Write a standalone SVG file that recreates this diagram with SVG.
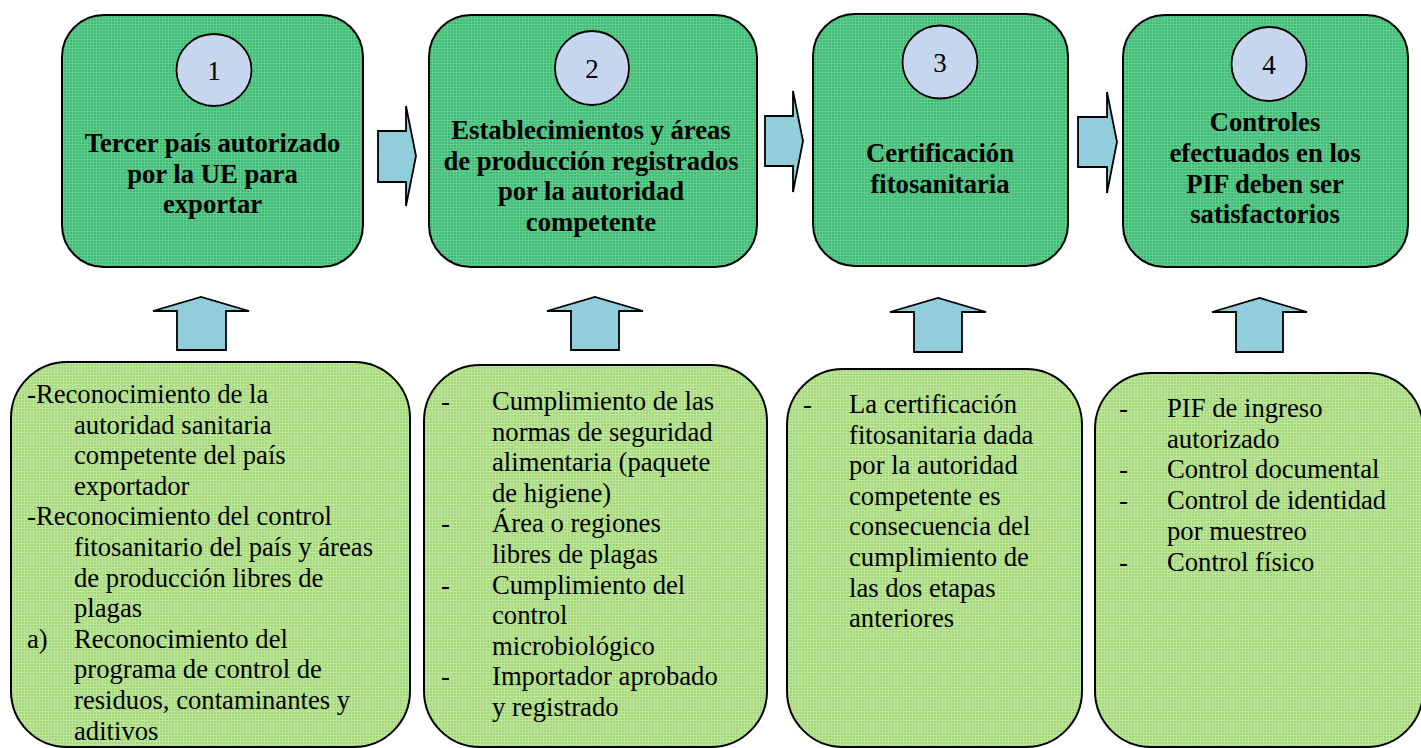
<svg xmlns="http://www.w3.org/2000/svg" width="1421" height="748" viewBox="0 0 1421 748">
<defs>
<pattern id="pTop" width="3" height="3" patternUnits="userSpaceOnUse">
<rect width="3" height="3" fill="#3dba74"/>
<rect width="1" height="3" fill="#62cc8f"/>
<rect width="3" height="1" fill="#62cc8f"/>
</pattern>
<pattern id="pBot" width="3" height="3" patternUnits="userSpaceOnUse">
<rect width="3" height="3" fill="#a3d878"/>
<rect width="1" height="3" fill="#bfe59c"/>
<rect width="3" height="1" fill="#bfe59c"/>
</pattern>
</defs>
<style>
.top{fill:url(#pTop);stroke:#000;stroke-width:2}
.bot{fill:url(#pBot);stroke:#000;stroke-width:2}
.num{fill:#c6d6ef;stroke:#000;stroke-width:1.8}
.arr{fill:#92cddc;stroke:#000;stroke-width:1.8;stroke-linejoin:miter}
.t{font-family:"Liberation Serif","Times New Roman",serif;font-size:26.67px;fill:#000}
.b{font-weight:bold;text-anchor:middle}
.n{text-anchor:middle;font-size:27px}
</style>
<rect width="1421" height="748" fill="#fff"/>

<g id="node1">
<rect class="top" x="62" y="15" width="301" height="252" rx="42" ry="42"/>
<ellipse class="num" cx="214" cy="70" rx="37.5" ry="36"/>
<text class="t n" x="214" y="80">1</text>
<text class="t b" x="212.5" y="152">Tercer país autorizado</text>
<text class="t b" x="212.5" y="183">por la UE para</text>
<text class="t b" x="212.5" y="213">exportar</text>
</g>

<g id="node2">
<rect class="top" x="429" y="15" width="328" height="252" rx="42" ry="42"/>
<ellipse class="num" cx="592" cy="68" rx="37" ry="37"/>
<text class="t n" x="592" y="78">2</text>
<text class="t b" x="591" y="139">Establecimientos y áreas</text>
<text class="t b" x="591" y="170">de producción registrados</text>
<text class="t b" x="591" y="200">por la autoridad</text>
<text class="t b" x="591" y="231">competente</text>
</g>

<g id="node3">
<rect class="top" x="813" y="14" width="255" height="252" rx="42" ry="42"/>
<ellipse class="num" cx="940" cy="62" rx="37.5" ry="36.5"/>
<text class="t n" x="940" y="72">3</text>
<text class="t b" x="940" y="162">Certificación</text>
<text class="t b" x="940" y="193">fitosanitaria</text>
</g>

<g id="node4">
<rect class="top" x="1123" y="15" width="285" height="252" rx="42" ry="42"/>
<ellipse class="num" cx="1269" cy="64" rx="37.5" ry="37"/>
<text class="t n" x="1269" y="74">4</text>
<text class="t b" x="1265" y="131">Controles</text>
<text class="t b" x="1265" y="162">efectuados en los</text>
<text class="t b" x="1265" y="193">PIF deben ser</text>
<text class="t b" x="1265" y="223">satisfactorios</text>
</g>

<g id="detail1">
<rect class="bot" x="11" y="362" width="399" height="385" rx="56" ry="56"/>
<text class="t" x="27" y="403">-Reconocimiento de la</text>
<text class="t" x="74" y="433.6">autoridad sanitaria</text>
<text class="t" x="74" y="464.2">competente del país</text>
<text class="t" x="74" y="494.8">exportador</text>
<text class="t" x="27" y="525.4">-Reconocimiento del control</text>
<text class="t" x="74" y="556">fitosanitario del país y áreas</text>
<text class="t" x="74" y="586.6">de producción libres de</text>
<text class="t" x="74" y="617.2">plagas</text>
<text class="t" x="27" y="647.8">a)</text>
<text class="t" x="74" y="647.8">Reconocimiento del</text>
<text class="t" x="74" y="678.4">programa de control de</text>
<text class="t" x="74" y="709">residuos, contaminantes y</text>
<text class="t" x="74" y="739.6">aditivos</text>
</g>

<g id="detail2">
<rect class="bot" x="424" y="365" width="343" height="382" rx="56" ry="56"/>
<text class="t" x="441" y="410">-</text>
<text class="t" x="492" y="410">Cumplimiento de las</text>
<text class="t" x="492" y="440.6">normas de seguridad</text>
<text class="t" x="492" y="471.2">alimentaria (paquete</text>
<text class="t" x="492" y="501.8">de higiene)</text>
<text class="t" x="441" y="532.4">-</text>
<text class="t" x="492" y="532.4">Área o regiones</text>
<text class="t" x="492" y="563">libres de plagas</text>
<text class="t" x="441" y="593.6">-</text>
<text class="t" x="492" y="593.6">Cumplimiento del</text>
<text class="t" x="492" y="624.2">control</text>
<text class="t" x="492" y="654.8">microbiológico</text>
<text class="t" x="441" y="685.4">-</text>
<text class="t" x="492" y="685.4">Importador aprobado</text>
<text class="t" x="492" y="716">y registrado</text>
</g>

<g id="detail3">
<rect class="bot" x="787" y="369" width="295" height="378" rx="56" ry="56"/>
<text class="t" x="803" y="413">-</text>
<text class="t" x="849" y="413">La certificación</text>
<text class="t" x="849" y="443.6">fitosanitaria dada</text>
<text class="t" x="849" y="474.2">por la autoridad</text>
<text class="t" x="849" y="504.8">competente es</text>
<text class="t" x="849" y="535.4">consecuencia del</text>
<text class="t" x="849" y="566">cumplimiento de</text>
<text class="t" x="849" y="596.6">las dos etapas</text>
<text class="t" x="849" y="627.2">anteriores</text>
</g>

<g id="detail4">
<rect class="bot" x="1095" y="373" width="328" height="374" rx="56" ry="56"/>
<text class="t" x="1119" y="417">-</text>
<text class="t" x="1167" y="417">PIF de ingreso</text>
<text class="t" x="1167" y="447.7">autorizado</text>
<text class="t" x="1119" y="478.4">-</text>
<text class="t" x="1167" y="478.4">Control documental</text>
<text class="t" x="1119" y="509.1">-</text>
<text class="t" x="1167" y="509.1">Control de identidad</text>
<text class="t" x="1167" y="539.8">por muestreo</text>
<text class="t" x="1119" y="570.5">-</text>
<text class="t" x="1167" y="570.5">Control físico</text>
</g>

<g id="connectors">
<polygon class="arr" points="378,131 406,131 406,106 416,156 406,206 406,182 378,182"/>
<polygon class="arr" points="765,116 793,116 793,91 803,141 793,192 793,166 765,166"/>
<polygon class="arr" points="1078,117 1107,117 1107,92 1117,142 1107,193 1107,167 1078,167"/>
<polygon class="arr" points="177,350 177,311 153,311 201,297 249,311 226,311 226,350"/>
<polygon class="arr" points="571,350 571,311 547,311 595,297 643,311 619,311 619,350"/>
<polygon class="arr" points="914,352 914,312 890,312 938,298 986,312 962,312 962,352"/>
<polygon class="arr" points="1236,352 1236,312 1212,312 1259.5,298 1307,312 1283,312 1283,352"/>
</g>
</svg>
